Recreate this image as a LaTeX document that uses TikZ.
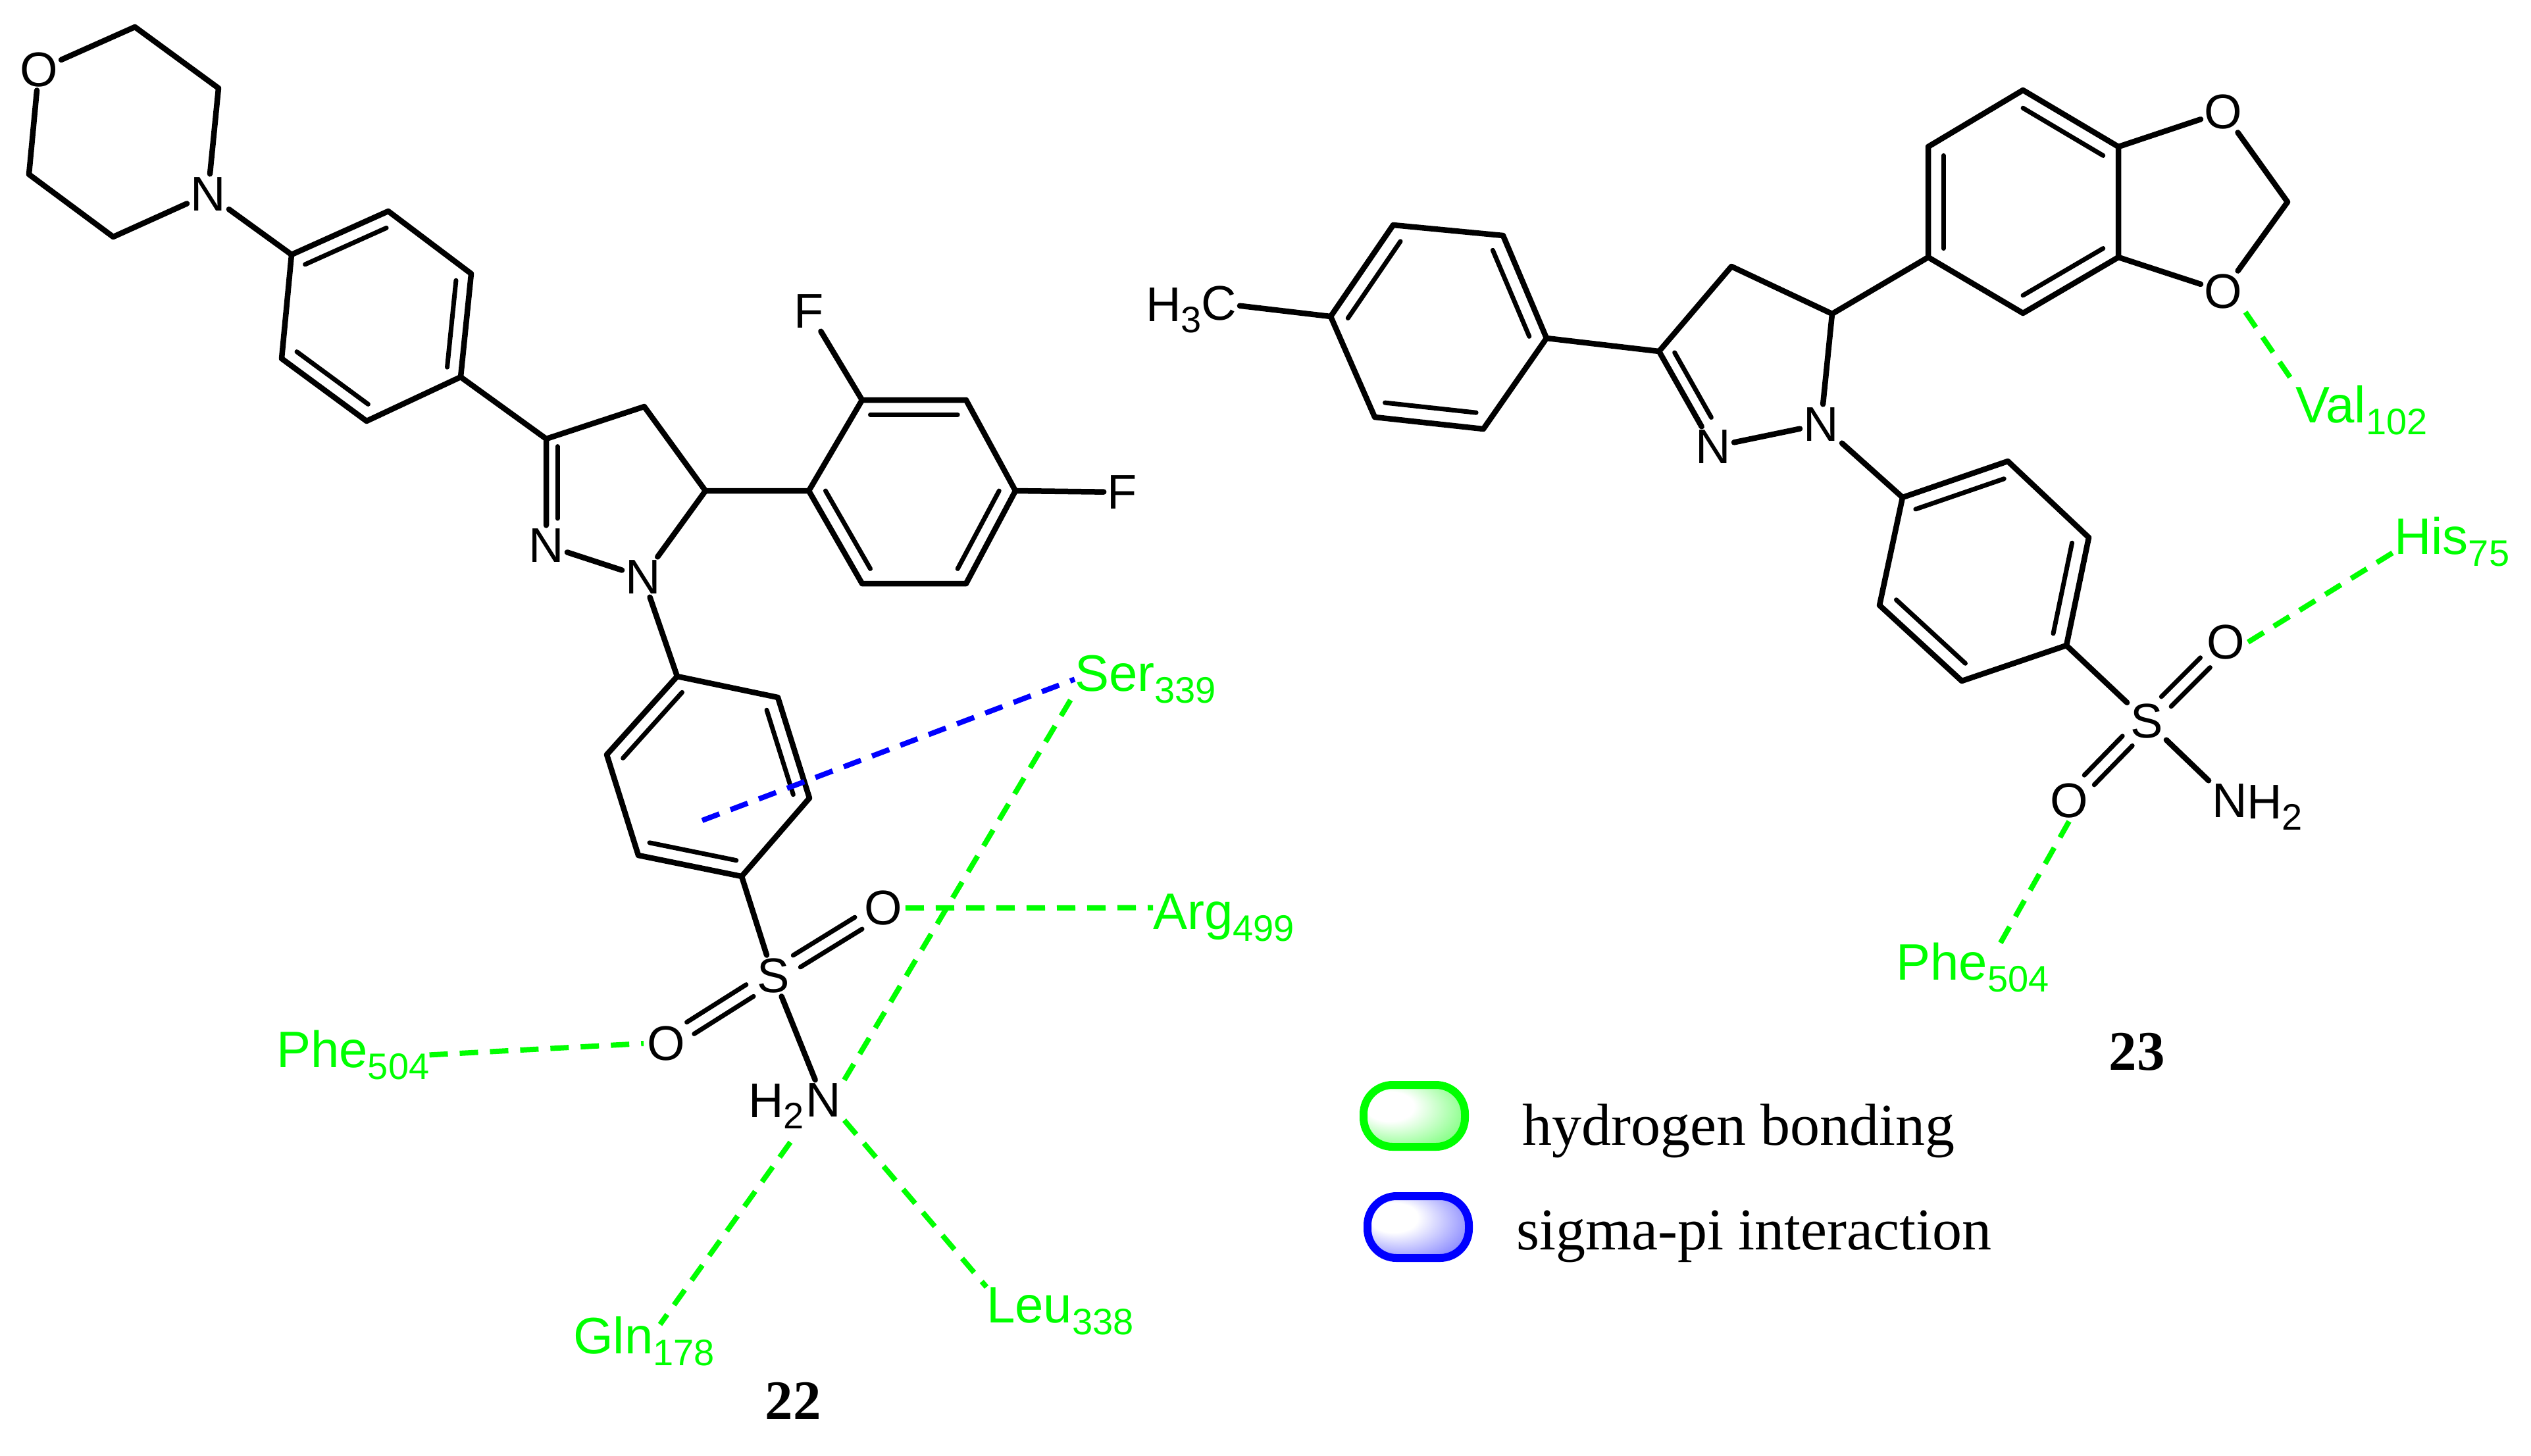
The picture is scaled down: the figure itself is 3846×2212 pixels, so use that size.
\documentclass[tikz,border=0pt]{standalone}
\usepackage{fontspec}
\setmainfont{Liberation Sans}
\newfontfamily\timesfam{Liberation Serif}
\usetikzlibrary{calc}
\definecolor{hbg}{HTML}{00FF00}
\definecolor{pib}{HTML}{0000FF}
\pgfdeclareradialshading{gpill}{\pgfpoint{-16bp}{10bp}}{color(0bp)=(white); color(12bp)=(white); color(30bp)=(hbg!42!white); color(50bp)=(hbg!80!white)}
\pgfdeclareradialshading{bpill}{\pgfpoint{-16bp}{10bp}}{color(0bp)=(white); color(12bp)=(white); color(30bp)=(pib!40!white); color(50bp)=(pib!85!white)}
\newcommand\atomfs{\fontsize{74}{74}\selectfont}
\newcommand\labfs{\fontsize{78}{78}\selectfont}
\newcommand\lab[2]{#1\raisebox{-.24em}{\fontsize{56}{56}\selectfont #2}}
\newcommand\bd[2]{\draw[bond] (#1) -- (#2);}
\newcommand\dbl[3]{\draw[bondin] ($(#1)!0.16!(#3)$) -- ($(#2)!0.16!(#3)$);}
\newcommand\sdbl[2]{\draw[bondin,shorten <=42pt,shorten >=44pt] ($(#1)!10.5pt!90:(#2)$) -- ($(#2)!10.5pt!-90:(#1)$);
 \draw[bondin,shorten <=42pt,shorten >=44pt] ($(#1)!10.5pt!-90:(#2)$) -- ($(#2)!10.5pt!90:(#1)$);}
\tikzset{
 bond/.style={line width=8.5pt,black,line cap=round,line join=round},
 bondin/.style={line width=7pt,black,line cap=round},
 atom/.style={font=\atomfs,inner sep=5pt,text=black},
 sublabel/.style={font=\atomfs,inner sep=0pt,text=black,anchor=base west},
 resid/.style={font=\labfs,inner sep=0pt,text=hbg,anchor=base west},
 hb/.style={line width=8pt,hbg,dash pattern=on 28pt off 18pt},
 sp/.style={line width=8pt,pib,dash pattern=on 28pt off 18pt},
 cpd/.style={font=\timesfam\bfseries\fontsize{85}{85}\selectfont,inner sep=0pt,text=black,anchor=base},
 leg/.style={font=\timesfam\fontsize{90}{90}\selectfont,inner sep=0pt,text=black,anchor=base west},
 pill/.style={rounded corners=44pt,line width=12pt,minimum width=154pt,minimum height=94pt,inner sep=0pt},
}
\begin{document}
\begin{tikzpicture}[x=1pt,y=-1pt]
\fill[white] (0,0) rectangle (3846,2212);
\useasboundingbox (0,0) rectangle (3846,2212);
% ---- compound 22 ----
\node[atom] (m-o) at (59,106) {O};
\node[atom] (m-n) at (316,295) {N};
\coordinate (m-c1) at (205,41);
\coordinate (m-c2) at (332,134);
\coordinate (m-c3) at (172,360);
\coordinate (m-c4) at (44,265);
\draw[bond] (m-o) -- (m-c1) -- (m-c2) -- (m-n);
\draw[bond] (m-n) -- (m-c3) -- (m-c4) -- (m-o);
\coordinate (a1) at (443,387);
\coordinate (a2) at (590,321);
\coordinate (a3) at (716,416);
\coordinate (a4) at (700,573);
\coordinate (a5) at (557,640);
\coordinate (a6) at (428,545);
\coordinate (ac) at (572,480);
\draw[bond] (a1) -- (a2) -- (a3) -- (a4) -- (a5) -- (a6) -- cycle;
\dbl{a1}{a2}{ac}\dbl{a3}{a4}{ac}\dbl{a5}{a6}{ac}
\bd{m-n}{a1}
\coordinate (p3) at (830,667);
\coordinate (p4) at (979,618);
\coordinate (p5) at (1072,746);
\node[atom] (p-n1) at (977,877) {N};
\node[atom] (p-n2) at (830,829) {N};
\coordinate (pc) at (930,735);
\draw[bond] (a4) -- (p3) -- (p4) -- (p5) -- (p-n1) -- (p-n2) -- (p3);
\draw[bondin,shorten >=25pt] ($(p3)!0.17!(pc)$) -- ($(p-n2)!0.17!(pc)$);
\coordinate (b1) at (1229,746);
\coordinate (b2) at (1310,608);
\coordinate (b3) at (1468,608);
\coordinate (b4) at (1543,746);
\coordinate (b5) at (1468,887);
\coordinate (b6) at (1310,887);
\coordinate (bc) at (1388,746);
\draw[bond] (p5) -- (b1) -- (b2) -- (b3) -- (b4) -- (b5) -- (b6) -- (b1);
\dbl{b2}{b3}{bc}\dbl{b4}{b5}{bc}\dbl{b6}{b1}{bc}
\node[atom] (f1) at (1229,473) {F};
\node[atom] (f2) at (1705,748) {F};
\bd{b2}{f1}\bd{b4}{f2}
\coordinate (d1) at (1029,1028);
\coordinate (d2) at (1182,1060);
\coordinate (d3) at (1230,1213);
\coordinate (d4) at (1127,1332);
\coordinate (d5) at (970,1300);
\coordinate (d6) at (922,1147);
\coordinate (dc) at (1076,1180);
\draw[bond] (d1) -- (d2) -- (d3) -- (d4) -- (d5) -- (d6) -- cycle;
\dbl{d1}{d6}{dc}\dbl{d2}{d3}{dc}\dbl{d4}{d5}{dc}
\bd{p-n1}{d1}
\node[atom] (s22) at (1175,1483) {S};
\node[atom] (o22a) at (1342,1380) {O};
\node[atom] (o22b) at (1012,1586) {O};
\node[atom] (n22) at (1251,1672) {N};
\node[sublabel] (h22) at (1137,1698) {\lab{H}{2}};
\bd{d4}{s22}\bd{s22}{n22}
\sdbl{s22}{o22a}\sdbl{s22}{o22b}
\node[resid] (ser) at (1633,1050) {\lab{Ser}{339}};
\node[resid] (arg) at (1752,1412) {\lab{Arg}{499}};
\node[resid] (phea) at (420,1622) {\lab{Phe}{504}};
\node[resid] (gln) at (871,2057) {\lab{Gln}{178}};
\node[resid] (leu) at (1499,2010) {\lab{Leu}{338}};
\coordinate (glnstart) at (1201,1736);
\coordinate (glnend) at (1003,2013);
\coordinate (pi22) at (1067,1247);
\node[cpd] (c22) at (1205,2157) {22};
\draw[sp] (pi22) -- (ser.west);
\draw[hb] (n22.north east) -- (ser.191);
\draw[hb] (o22a.east) -- (arg.172);
\draw[hb] (phea.east) -- (o22b.west);
\draw[hb] (glnstart) -- (glnend);
\draw[hb] (n22.south east) -- (leu.north west);
% ---- compound 23 ----
\node[atom] (me) at (1852,461) {C};
\node[sublabel] (h23) at (1741,488) {\lab{H}{3}};
\coordinate (t1) at (2022,481);
\coordinate (t2) at (2117,342);
\coordinate (t3) at (2284,358);
\coordinate (t4) at (2350,514);
\coordinate (t5) at (2254,652);
\coordinate (t6) at (2089,634);
\coordinate (tc) at (2186,497);
\draw[bond] (t1) -- (t2) -- (t3) -- (t4) -- (t5) -- (t6) -- cycle;
\dbl{t1}{t2}{tc}\dbl{t3}{t4}{tc}\dbl{t5}{t6}{tc}
\bd{me}{t1}
\coordinate (q3) at (2521,534);
\coordinate (q4) at (2631,405);
\coordinate (q5) at (2784,477);
\node[atom] (q-n1) at (2767,645) {N};
\node[atom] (q-n2) at (2603,679) {N};
\coordinate (qc) at (2660,545);
\draw[bond] (t4) -- (q3) -- (q4) -- (q5) -- (q-n1) -- (q-n2) -- (q3);
\draw[bondin,shorten >=25pt] ($(q3)!0.17!(qc)$) -- ($(q-n2)!0.17!(qc)$);
\coordinate (e1) at (2930,391);
\coordinate (e2) at (3074,476);
\coordinate (e3) at (3219,391);
\coordinate (e4) at (3219,223);
\coordinate (e5) at (3074,137);
\coordinate (e6) at (2930,223);
\coordinate (ec) at (3074,307);
\draw[bond] (q5) -- (e1) -- (e2) -- (e3) -- (e4) -- (e5) -- (e6) -- (e1);
\dbl{e1}{e6}{ec}\dbl{e4}{e5}{ec}\dbl{e2}{e3}{ec}
\node[atom] (o23c) at (3378,170) {O};
\node[atom] (o23d) at (3378,443) {O};
\coordinate (ch2) at (3476,307);
\draw[bond] (e4) -- (o23c) -- (ch2) -- (o23d) -- (e3);
\coordinate (g1) at (2891,756);
\coordinate (g2) at (3051,701);
\coordinate (g3) at (3174,817);
\coordinate (g4) at (3140,981);
\coordinate (g5) at (2981,1035);
\coordinate (g6) at (2856,920);
\coordinate (gc) at (3015,868);
\draw[bond] (g1) -- (g2) -- (g3) -- (g4) -- (g5) -- (g6) -- cycle;
\dbl{g1}{g2}{gc}\dbl{g3}{g4}{gc}\dbl{g5}{g6}{gc}
\bd{q-n1}{g1}
\node[atom] (s23) at (3262,1096) {S};
\node[atom] (o23a) at (3382,976) {O};
\node[atom] (o23b) at (3144,1217) {O};
\node[atom] (n23) at (3388,1217) {N};
\node[sublabel,anchor=base west,inner sep=0pt] (h2n) at (3414,1244) {\lab{H}{2}};
\bd{g4}{s23}\bd{s23}{n23}
\sdbl{s23}{o23a}\sdbl{s23}{o23b}
\node[resid] (val) at (3488,642) {\lab{Val}{102}};
\node[resid] (his) at (3638,842) {\lab{His}{75}};
\node[resid] (pheb) at (2881,1489) {\lab{Phe}{504}};
\coordinate (phebend) at (3032,1447);
\node[cpd] (c23) at (3247,1626) {23};
\draw[hb] (o23d.south east) -- (val.north west);
\draw[hb] (o23a.east) -- (his.190);
\draw[hb] (o23b.south) -- (phebend);
% ---- legend ----
\node[pill,draw=hbg,shading=gpill] (pg) at (2149,1696) {};
\node[pill,draw=pib,shading=bpill] (pb) at (2155,1865) {};
\node[leg] (lg) at (2313,1740) {hydrogen bonding};
\node[leg] (lb) at (2304,1899) {sigma-pi interaction};
\end{tikzpicture}
\end{document}
